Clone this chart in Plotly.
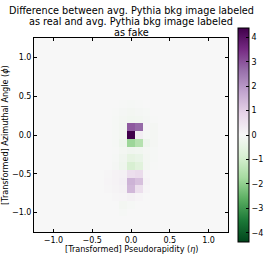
import plotly.graph_objects as go

# pixel centres of the 25x25 jet image
eta_centers = [-1.2, -1.1, -1.0, -0.9, -0.8, -0.7, -0.6, -0.5, -0.4, -0.3, -0.2, -0.1, 0.0,
               0.1, 0.2, 0.3, 0.4, 0.5, 0.6, 0.7, 0.8, 0.9, 1.0, 1.1, 1.2]
phi_centers = list(eta_centers)

# non-negligible region: columns eta = -0.3 .. 0.3, rows phi = 0.4 .. -1.0 (top to bottom)
core_cols = [-0.3, -0.2, -0.1, 0.0, 0.1, 0.2, 0.3]
core_rows = [0.4, 0.3, 0.2, 0.1, 0.0, -0.1, -0.2, -0.3, -0.4, -0.5, -0.6, -0.7, -0.8, -0.9, -1.0]
core_vals = [
    [0.00, 0.00, -0.03, -0.05, -0.03, 0.00, 0.00],
    [0.00, -0.03, -0.08, -0.12, -0.08, -0.05, 0.00],
    [0.00, -0.05, -0.12, -0.18, -0.15, -0.08, -0.03],
    [0.00, -0.05, -0.15, 2.90, 2.70, 0.05, -0.10],
    [0.00, -0.05, -0.15, 4.38, 0.25, -0.05, -0.10],
    [0.00, -0.05, -0.25, -1.85, -1.50, -0.25, -0.10],
    [0.00, -0.03, -0.12, -0.20, -0.18, -0.10, -0.05],
    [0.00, -0.05, -0.20, -0.50, -0.40, -0.12, -0.05],
    [0.00, -0.08, -0.25, -0.90, -0.65, -0.12, -0.03],
    [0.05, 0.12, 0.15, 0.60, 0.70, 0.08, 0.00],
    [0.08, 0.12, 0.20, 1.50, 1.25, 0.12, 0.00],
    [0.05, 0.10, 0.15, 1.40, 0.60, 0.08, 0.00],
    [0.00, 0.05, 0.08, 0.15, 0.08, 0.00, 0.00],
    [0.00, 0.00, -0.12, -0.05, 0.00, 0.00, 0.00],
    [0.00, 0.00, -0.05, 0.00, 0.00, 0.00, 0.00],
]
z_limit = 4.38
cbar_ticks = [-4, -3, -2, -1, 0, 1, 2, 3, 4]
axis_ticks = [-1.0, -0.5, 0.0, 0.5, 1.0]

# build full grid (rows ordered bottom -> top to match phi_centers)
z = [[0.0 for _ in eta_centers] for _ in phi_centers]
for r, phi in enumerate(core_rows):
    for c, eta in enumerate(core_cols):
        i = min(range(len(phi_centers)), key=lambda k: abs(phi_centers[k] - phi))
        j = min(range(len(eta_centers)), key=lambda k: abs(eta_centers[k] - eta))
        z[i][j] = core_vals[r][c]

FONT = "DejaVu Sans"

fig = go.Figure(go.Heatmap(
    x=eta_centers, y=phi_centers, z=z,
    colorscale="PRGn_r", zmin=-z_limit, zmax=z_limit, zsmooth=False,
    colorbar=dict(
        thickness=11, lenmode="pixels", len=214, y=0.5, yanchor="middle",
        x=1.0515, xanchor="left", xpad=0, ypad=0,
        outlinewidth=1, outlinecolor="black",
        tickvals=cbar_ticks, ticks="inside", ticklen=3, tickcolor="black",
        tickfont=dict(family=FONT, size=8, color="black"),
    ),
    hoverinfo="skip",
))

axis_common = dict(
    range=[-1.25, 1.25], tickvals=axis_ticks, ticktext=["−1.0", "−0.5", "0.0", "0.5", "1.0"],
    ticks="inside", ticklen=3, tickcolor="black", showline=True, linecolor="black",
    linewidth=1, mirror="ticks", showgrid=False, zeroline=False, automargin=False,
    tickfont=dict(family=FONT, size=8, color="black"),
)

fig.update_layout(
    width=277, height=277,
    margin=dict(l=34, r=49, t=38, b=45, autoexpand=False),
    paper_bgcolor="white", plot_bgcolor="rgb(247,247,247)",
    xaxis=axis_common,
    yaxis=axis_common,
    font=dict(family=FONT, color="black"),
    hovermode=False,
)

title_lines = ["Difference between avg. Pythia bkg image labeled",
               "as real and avg. Pythia bkg image labeled",
               "as fake"]
for k, line in enumerate(title_lines):
    fig.add_annotation(text=line, xref="paper", yref="paper", x=0.5, xanchor="center",
                       y=1 + (38 - (10 + 11.3 * k)) / 194, yanchor="middle", showarrow=False,
                       font=dict(family=FONT, size=9.7, color="black"))

fig.add_annotation(text="[Transformed] Pseudorapidity (<i>η</i>)", xref="paper", yref="paper",
                   x=0.5, y=-(249 - 232) / 194, yanchor="middle", showarrow=False,
                   font=dict(family=FONT, size=8.1, color="black"))
fig.add_annotation(text="[Transformed] Azimuthal Angle (<i>ϕ</i>)", xref="paper", yref="paper",
                   x=-(34 - 5) / 194, xanchor="center", y=0.5, yanchor="middle", textangle=-90,
                   showarrow=False, font=dict(family=FONT, size=8.1, color="black"))

fig.write_html("out.html", config={"displayModeBar": False},
               post_script="document.body.style.margin='0';")
